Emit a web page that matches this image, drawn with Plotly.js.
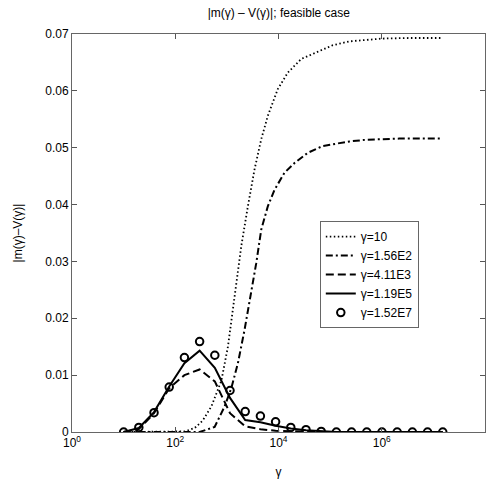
<!DOCTYPE html>
<html>
<head>
<meta charset="utf-8">
<script src="https://cdn.plot.ly/plotly-3.0.1.min.js"></script>
<style>html,body{margin:0;padding:0;background:#fff;}#chart{width:490px;height:484px;}</style>
</head>
<body>
<div id="chart"></div>
<script>
// Common gamma grid (x values)
var gammaGrid = [10, 19.7, 38.8, 76.4, 150.5, 296.5, 584, 1150, 2265, 4461, 8787, 17310, 34090, 67140, 132200, 260400, 513000, 1010000, 1990000, 3920000, 7720000, 15200000];

// gamma = 10 (dotted)
var gammaDot = [10, 19.7, 38.8, 76.4, 153, 238, 340, 501, 781, 1048, 1412, 1902, 2552, 3436, 4632, 6213, 9687, 15130, 27460, 53540, 110400, 235500, 495300, 1023000, 3400000, 15200000];
var valDot   = [0, 0, 0, 0, 0.0001, 0.0007, 0.0020, 0.0045, 0.0090, 0.0150, 0.0239, 0.0327, 0.0397, 0.0462, 0.0515, 0.0556, 0.0603, 0.0632, 0.0656, 0.0667, 0.0680, 0.0687, 0.0690, 0.0692, 0.0693, 0.0693];

// gamma = 1.56E2 (dash-dot)
var gammaDashDot = [10, 19.7, 38.8, 76.4, 150.5, 297, 580, 905, 1219, 1636, 2203, 2967, 3706, 4632, 6213, 8370, 13060, 20380, 36830, 71780, 111900, 235500, 495300, 2178000, 15200000];
var valDashDot   = [0, 0, 0, 0, 0, 0, 0.0009, 0.0045, 0.0077, 0.0121, 0.0180, 0.0244, 0.0297, 0.0356, 0.0397, 0.0426, 0.0456, 0.0473, 0.0491, 0.0503, 0.0506, 0.0511, 0.0514, 0.0516, 0.0516];

// gamma = 4.11E3 (dashed)
var valDash  = [0, 0.0005, 0.0033, 0.0077, 0.0100, 0.0110, 0.0089, 0.0033, 0.0010, 0.0005, 0.0002, 0.0001, 0, 0, 0, 0, 0, 0, 0, 0, 0, 0];

// gamma = 1.19E5 (solid)
var valSolid = [0, 0.0007, 0.0035, 0.0080, 0.0121, 0.0143, 0.0113, 0.0060, 0.0021, 0.0017, 0.0011, 0.0006, 0.0003, 0.0001, 0, 0, 0, 0, 0, 0, 0, 0];

// gamma = 1.52E7 (circles)
var valCirc  = [0, 0.0008, 0.0034, 0.0079, 0.0131, 0.0159, 0.0135, 0.0073, 0.0036, 0.0028, 0.0018, 0.0008, 0.0004, 0.0001, 0, 0, 0, 0, 0, 0, 0, 0];

var seriesNames = ['γ=10', 'γ=1.56E2', 'γ=4.11E3', 'γ=1.19E5', 'γ=1.52E7'];

var xTickVals = [1, 100, 10000, 1000000, 100000000];
var xTickText = ['10<sup>0</sup>', '10<sup>2</sup>', '10<sup>4</sup>', '10<sup>6</sup>', '10<sup>8</sup>'];

var FONT = 'Liberation Sans, Arial, Helvetica, sans-serif';

var traces = [
  {x: gammaDot, y: valDot, name: seriesNames[0], mode: 'lines',
   line: {color: '#000', width: 1.8, dash: '1.5px,2.5px'}},
  {x: gammaDashDot, y: valDashDot, name: seriesNames[1], mode: 'lines',
   line: {color: '#000', width: 2, dash: '7px,3px,2px,3px'}},
  {x: gammaGrid, y: valDash, name: seriesNames[2], mode: 'lines',
   line: {color: '#000', width: 2, dash: '8px,4px'}},
  {x: gammaGrid, y: valSolid, name: seriesNames[3], mode: 'lines',
   line: {color: '#000', width: 2}},
  {x: gammaGrid, y: valCirc, name: seriesNames[4], mode: 'markers',
   marker: {symbol: 'circle-open', size: 7.5, color: '#000', line: {width: 2, color: '#000'}}}
];

var layout = {
  width: 490, height: 484,
  margin: {l: 72, r: 5, t: 34, b: 52},
  paper_bgcolor: '#fff', plot_bgcolor: '#fff',
  font: {family: FONT, size: 12, color: '#000'},
  showlegend: true,
  title: {text: '|m(γ) – V(γ)|; feasible case', x: 0.569, xanchor: 'center', y: 0.973, yanchor: 'middle', yref: 'container',
          font: {family: FONT, size: 12, color: '#000'}},
  xaxis: {type: 'log', range: [0, 8], tickvals: xTickVals, ticktext: xTickText,
          ticks: 'inside', ticklen: 5, tickcolor: '#555', mirror: 'ticks', showline: true, linecolor: '#666', linewidth: 1,
          showgrid: false, zeroline: false, tickfont: {family: FONT, size: 12, color: '#000'},
          title: {text: 'γ', standoff: 18, font: {family: FONT, size: 12, color: '#000'}}},
  yaxis: {range: [0, 0.07], dtick: 0.01, tick0: 0,
          ticks: 'inside', ticklen: 5, tickcolor: '#555', mirror: 'ticks', showline: true, linecolor: '#666', linewidth: 1,
          showgrid: false, zeroline: false, tickfont: {family: FONT, size: 12, color: '#000'},
          title: {text: '|m(γ)–V(γ)|', standoff: 20, font: {family: FONT, size: 12, color: '#000'}}},
  legend: {x: 0.6, y: 0.53, xanchor: 'left', yanchor: 'top', bgcolor: '#fff', bordercolor: '#666', borderwidth: 1,
           font: {family: FONT, size: 12, color: '#000'}, tracegroupgap: 0}
};

Plotly.newPlot('chart', traces, layout, {displayModeBar: false, staticPlot: true});
</script>
</body>
</html>
